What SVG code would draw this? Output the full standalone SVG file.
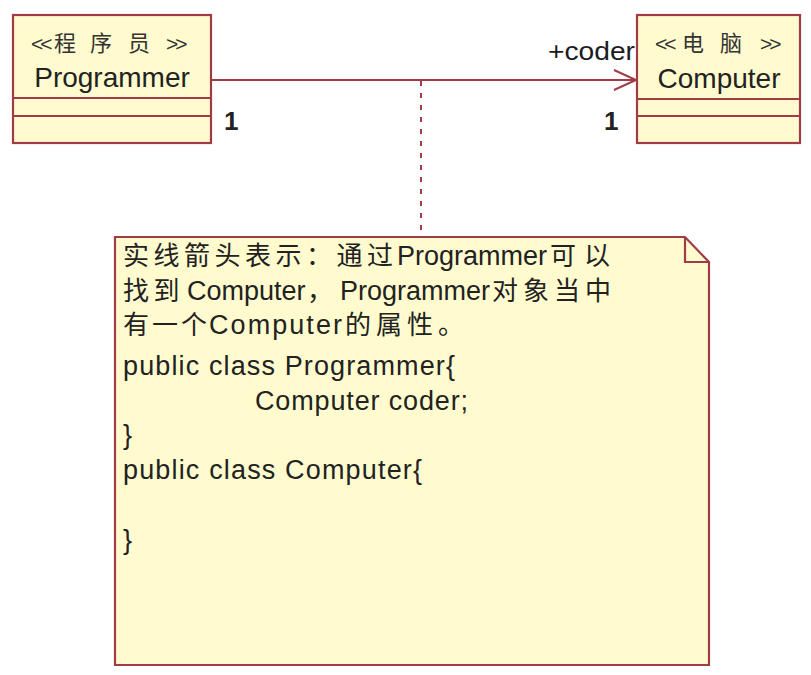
<svg xmlns="http://www.w3.org/2000/svg" width="811" height="675" viewBox="0 0 811 675">
<style>
.box{fill:#fffbcf;stroke:#a23b48;stroke-width:2.2}
.div{stroke:#a23b48;stroke-width:2.2;fill:none}
.t{font-family:"Liberation Sans","Noto Sans CJK SC",Arial,sans-serif;fill:#222}
.cls{font-size:28px;text-anchor:middle}
.st{font-size:22px;fill:#333}
.ang{font-size:21px;letter-spacing:-3px}
.nt{font-size:27px}
.cj{font-size:26px;letter-spacing:4.5px}
.lbl{font-size:26px;fill:#1b1b24}
.mul{font-size:26px;font-weight:bold;fill:#222}
.edge{stroke:#a23b48;stroke-width:2;fill:none}
</style>
<defs>
<marker id="open" markerWidth="26" markerHeight="24" refX="23" refY="11" orient="auto" markerUnits="userSpaceOnUse">
<path d="M1,1 L23,11 L1,21" fill="none" stroke="#a23b48" stroke-width="2"/>
</marker>
</defs>
<rect width="811" height="675" fill="#ffffff"/>

<g id="connectors">
<line class="edge" x1="212" y1="80" x2="636" y2="80" marker-end="url(#open)"/>
<line class="edge" x1="421" y1="81" x2="421" y2="237" stroke-dasharray="5,7"/>
<text class="t lbl" x="548" y="60" textLength="87" lengthAdjust="spacingAndGlyphs">+coder</text>
<text class="t mul" x="224" y="130">1</text>
<text class="t mul" x="604" y="130">1</text>
</g>

<g id="programmer">
<rect class="box" x="13" y="15" width="198" height="128"/>
<line class="div" x1="13" y1="98" x2="211" y2="98"/>
<line class="div" x1="13" y1="116" x2="211" y2="116"/>
<text class="t st" y="51"><tspan class="ang" x="31">&lt;&lt;</tspan><tspan x="54">程</tspan><tspan x="90">序</tspan><tspan x="128">员</tspan><tspan class="ang" x="166">&gt;&gt;</tspan></text>
<text class="t cls" x="112" y="87">Programmer</text>
</g>

<g id="computer">
<rect class="box" x="637" y="15" width="163" height="128"/>
<line class="div" x1="637" y1="99" x2="800" y2="99"/>
<line class="div" x1="637" y1="116" x2="800" y2="116"/>
<text class="t st" y="51"><tspan class="ang" x="655">&lt;&lt;</tspan><tspan x="682">电</tspan><tspan x="720">脑</tspan><tspan class="ang" x="760">&gt;&gt;</tspan></text>
<text class="t cls" x="719" y="88">Computer</text>
</g>

<g id="note">
<path class="box" d="M115,237 L685,237 L709,262 L709,665 L115,665 Z"/>
<path class="div" d="M685,237 L685,262 L709,262"/>
<text class="t nt" y="265"><tspan class="cj" x="123">实线箭头表示：通过</tspan><tspan x="397">Programmer</tspan><tspan class="cj" x="550" style="letter-spacing:8px">可以</tspan></text>
<text class="t nt" y="300"><tspan class="cj" x="123">找到</tspan><tspan x="187">Computer</tspan><tspan class="cj" x="307" style="letter-spacing:0">，</tspan><tspan x="340">Programmer</tspan><tspan class="cj" x="492" style="letter-spacing:5px">对象当中</tspan></text>
<text class="t nt" y="334"><tspan class="cj" x="123" style="letter-spacing:3px">有一个</tspan><tspan x="209" textLength="133" lengthAdjust="spacing">Computer</tspan><tspan class="cj" x="345" style="letter-spacing:5px">的属性。</tspan></text>
<text class="t nt" x="123" y="375" textLength="332" lengthAdjust="spacing">public class Programmer{</text>
<text class="t nt" x="255" y="410" textLength="213" lengthAdjust="spacing">Computer coder;</text>
<text class="t nt" x="123" y="444">}</text>
<text class="t nt" x="123" y="479" textLength="299" lengthAdjust="spacing">public class Computer{</text>
<text class="t nt" x="123" y="549">}</text>
</g>
</svg>
